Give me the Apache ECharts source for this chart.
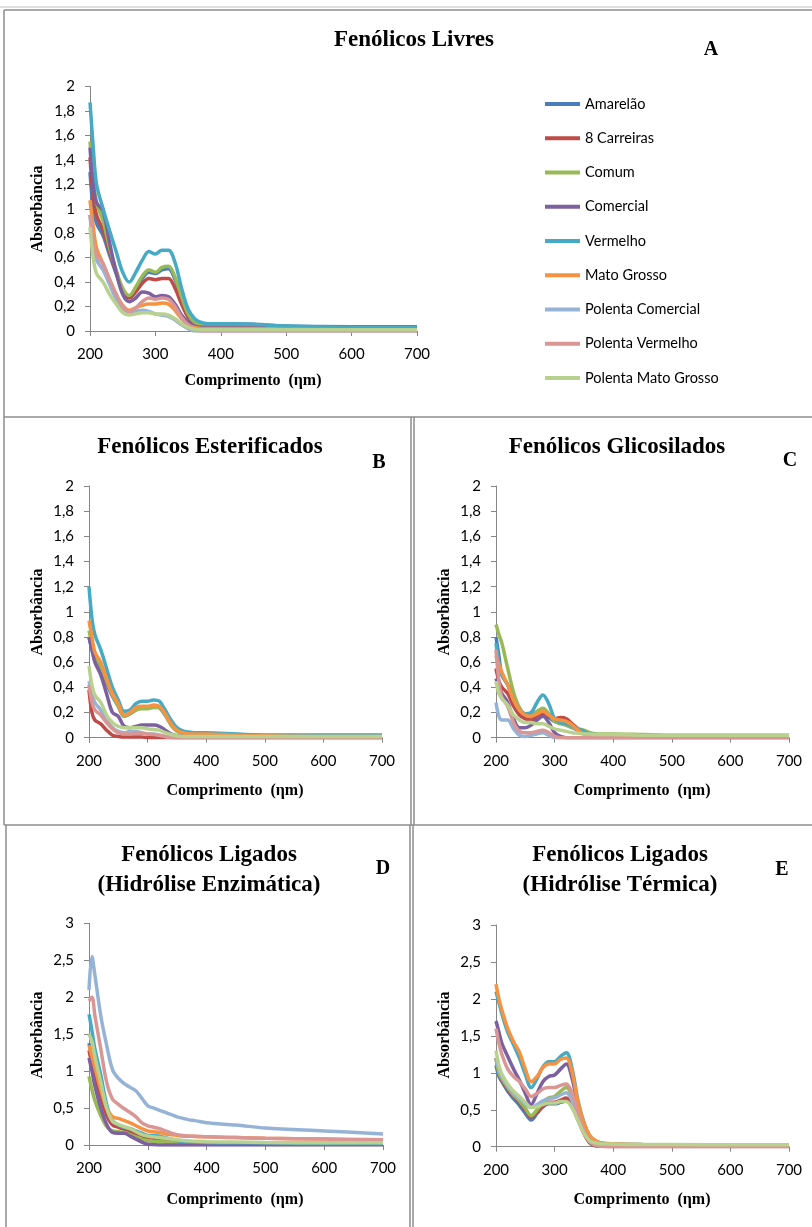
<!DOCTYPE html>
<html><head><meta charset="utf-8">
<script src="https://cdn.jsdelivr.net/npm/echarts@6/dist/echarts.min.js"></script>
<style>html,body{margin:0;padding:0;background:#fff}#c{width:812px;height:1227px}</style>
</head><body><div id="c"></div>
<script>
// Wavelengths (nm)
const wavelengths = [200,205,210,220,230,240,250,260,270,280,290,300,310,320,330,340,350,360,370,380,400,450,500,600,700];
const seriesNames = ['Amarelão','8 Carreiras','Comum','Comercial','Vermelho','Mato Grosso','Polenta Comercial','Polenta Vermelho','Polenta Mato Grosso'];
const yTicksAC = [0,0.2,0.4,0.6,0.8,1,1.2,1.4,1.6,1.8,2];
const yTicksDE = [0,0.5,1,1.5,2,2.5,3];
const xTicks = [200,300,400,500,600,700];

// A - Fenólicos Livres
const livresAmarelao   = [1.30,1.00,0.88,0.78,0.62,0.47,0.33,0.28,0.34,0.43,0.48,0.47,0.50,0.51,0.42,0.27,0.14,0.08,0.06,0.06,0.06,0.055,0.04,0.035,0.035];
const livres8Carreiras = [1.42,1.10,0.95,0.82,0.65,0.48,0.33,0.27,0.32,0.39,0.43,0.42,0.43,0.43,0.35,0.22,0.11,0.05,0.035,0.03,0.03,0.03,0.025,0.02,0.02];
const livresComum      = [1.55,1.25,1.05,0.90,0.68,0.50,0.35,0.29,0.36,0.45,0.50,0.48,0.52,0.53,0.44,0.28,0.14,0.07,0.05,0.05,0.05,0.05,0.035,0.02,0.02];
const livresComercial  = [1.50,1.20,1.05,0.98,0.72,0.48,0.30,0.24,0.27,0.32,0.31,0.28,0.29,0.28,0.22,0.13,0.07,0.04,0.03,0.03,0.03,0.03,0.02,0.02,0.02];
const livresVermelho   = [1.87,1.50,1.20,1.00,0.82,0.65,0.48,0.40,0.48,0.58,0.65,0.63,0.66,0.66,0.56,0.35,0.18,0.10,0.07,0.06,0.06,0.055,0.04,0.03,0.03];
const livresMatoGrosso = [1.07,0.85,0.68,0.55,0.42,0.30,0.21,0.17,0.19,0.21,0.22,0.22,0.23,0.22,0.17,0.10,0.05,0.03,0.02,0.02,0.02,0.02,0.015,0.01,0.01];
const livresPolCom     = [0.95,0.70,0.58,0.50,0.38,0.26,0.18,0.15,0.16,0.17,0.16,0.14,0.13,0.12,0.09,0.05,0.02,0.00,0,0,0,0,0,0,0];
const livresPolVerm    = [0.95,0.75,0.62,0.55,0.42,0.30,0.20,0.16,0.19,0.24,0.27,0.26,0.27,0.26,0.20,0.11,0.05,0.01,0,0,0,0,0,0,0];
const livresPolMG      = [0.85,0.60,0.47,0.40,0.30,0.22,0.15,0.13,0.14,0.15,0.15,0.14,0.14,0.13,0.10,0.06,0.03,0.015,0.01,0.01,0.01,0.01,0.01,0.01,0.01];

// B - Fenólicos Esterificados
const esterAmarelao   = [0.80,0.70,0.62,0.55,0.43,0.33,0.25,0.17,0.19,0.22,0.24,0.24,0.25,0.24,0.18,0.11,0.06,0.045,0.04,0.035,0.03,0.025,0.02,0.02,0.02];
const ester8Carreiras = [0.38,0.20,0.14,0.11,0.06,0.02,0.01,0.005,0.005,0.005,0.005,0,0,0,0,0,0,0,0,0,0,0,0,0,0];
const esterComum      = [0.85,0.75,0.65,0.57,0.45,0.34,0.25,0.17,0.19,0.22,0.23,0.23,0.24,0.24,0.18,0.10,0.05,0.035,0.025,0.02,0.02,0.02,0.015,0.01,0.01];
const esterComercial  = [0.80,0.70,0.60,0.50,0.35,0.20,0.17,0.09,0.08,0.09,0.10,0.10,0.10,0.09,0.06,0.03,0.015,0.01,0.01,0.01,0.01,0.01,0.01,0.01,0.01];
const esterVermelho   = [1.20,0.95,0.82,0.70,0.55,0.40,0.30,0.21,0.22,0.27,0.29,0.29,0.30,0.29,0.22,0.14,0.08,0.055,0.045,0.04,0.04,0.03,0.02,0.02,0.02];
const esterMatoGrosso = [0.93,0.80,0.68,0.60,0.47,0.35,0.27,0.18,0.20,0.24,0.25,0.25,0.26,0.25,0.19,0.11,0.06,0.04,0.03,0.03,0.03,0.02,0.015,0.01,0.01];
const esterPolCom     = [0.45,0.35,0.28,0.22,0.14,0.08,0.05,0.04,0.05,0.05,0.04,0.03,0.03,0.02,0.01,0.005,0,0,0,0,0,0,0,0,0];
const esterPolVerm    = [0.42,0.28,0.22,0.18,0.12,0.07,0.04,0.03,0.03,0.035,0.035,0.03,0.025,0.02,0.01,0,0,0,0,0,0,0,0,0,0];
const esterPolMG      = [0.57,0.42,0.34,0.28,0.18,0.12,0.09,0.08,0.08,0.08,0.08,0.07,0.065,0.06,0.04,0.025,0.015,0.01,0.01,0.01,0.01,0.01,0.01,0.01,0.01];

// C - Fenólicos Glicosilados
const glicAmarelao   = [0.80,0.65,0.50,0.42,0.30,0.22,0.18,0.17,0.17,0.18,0.16,0.13,0.12,0.10,0.08,0.06,0.04,0.03,0.025,0.02,0.02,0.02,0.015,0.015,0.015];
const glic8Carreiras = [0.55,0.45,0.40,0.35,0.25,0.18,0.15,0.14,0.16,0.19,0.17,0.15,0.16,0.15,0.11,0.07,0.03,0.015,0.01,0.01,0.01,0.01,0.01,0.01,0.01];
const glicComum      = [0.90,0.82,0.75,0.55,0.36,0.24,0.19,0.19,0.21,0.235,0.19,0.13,0.11,0.10,0.08,0.07,0.06,0.04,0.03,0.03,0.03,0.025,0.02,0.02,0.02];
const glicComercial  = [0.47,0.40,0.35,0.28,0.15,0.08,0.08,0.10,0.14,0.17,0.12,0.04,0.01,0,0,0,0,0,0,0,0,0,0,0,0];
const glicVermelho   = [0.75,0.60,0.50,0.42,0.30,0.22,0.19,0.20,0.28,0.34,0.27,0.15,0.12,0.11,0.09,0.07,0.05,0.03,0.025,0.02,0.02,0.02,0.015,0.015,0.015];
const glicMatoGrosso = [0.65,0.58,0.52,0.42,0.30,0.22,0.18,0.17,0.19,0.21,0.18,0.15,0.14,0.13,0.10,0.06,0.03,0.02,0.01,0.01,0.01,0.01,0.01,0.01,0.01];
const glicPolCom     = [0.28,0.17,0.14,0.14,0.07,0.02,0.01,0.02,0.03,0.04,0.02,0,0,0,0,0,0,0,0,0,0,0,0,0,0];
const glicPolVerm    = [0.70,0.45,0.32,0.25,0.12,0.05,0.04,0.04,0.05,0.06,0.04,0.01,0,0,0,0,0,0,0,0,0,0,0,0,0];
const glicPolMG      = [0.45,0.35,0.31,0.26,0.18,0.14,0.12,0.12,0.11,0.11,0.09,0.07,0.06,0.05,0.04,0.035,0.03,0.03,0.025,0.025,0.025,0.02,0.02,0.02,0.02];

// D - Fenólicos Ligados (Hidrólise Enzimática)
const enzAmarelao   = [1.38,1.20,1.00,0.70,0.42,0.28,0.25,0.22,0.19,0.15,0.11,0.08,0.07,0.06,0.05,0.045,0.04,0.035,0.03,0.03,0.025,0.02,0.02,0.015,0.015];
const enz8Carreiras = [1.28,1.10,0.95,0.65,0.40,0.27,0.24,0.21,0.18,0.15,0.11,0.08,0.07,0.065,0.06,0.05,0.045,0.04,0.035,0.03,0.03,0.025,0.02,0.02,0.02];
const enzComum      = [0.93,0.75,0.60,0.40,0.25,0.19,0.18,0.17,0.14,0.11,0.08,0.06,0.05,0.045,0.04,0.035,0.03,0.025,0.02,0.02,0.02,0.015,0.01,0.01,0.01];
const enzComercial  = [1.18,1.00,0.80,0.50,0.28,0.17,0.16,0.16,0.12,0.08,0.04,0.01,0.005,0,0,0,0,0,0,0,0,0,0,0,0];
const enzVermelho   = [1.77,1.55,1.30,0.95,0.55,0.33,0.27,0.24,0.22,0.19,0.16,0.13,0.13,0.12,0.10,0.08,0.06,0.05,0.045,0.04,0.035,0.03,0.03,0.02,0.02];
const enzMatoGrosso = [1.35,1.20,1.05,0.75,0.50,0.38,0.36,0.33,0.30,0.26,0.22,0.19,0.18,0.17,0.15,0.14,0.13,0.12,0.12,0.115,0.11,0.10,0.09,0.08,0.07];
const enzPolCom     = [2.10,2.55,2.30,1.75,1.35,1.02,0.90,0.83,0.78,0.73,0.63,0.53,0.50,0.47,0.44,0.41,0.38,0.36,0.34,0.33,0.30,0.27,0.23,0.19,0.15];
const enzPolVerm    = [1.95,2.00,1.75,1.30,0.85,0.62,0.55,0.49,0.44,0.38,0.30,0.26,0.24,0.22,0.19,0.16,0.14,0.13,0.12,0.12,0.11,0.10,0.09,0.08,0.07];
const enzPolMG      = [1.50,1.40,1.20,0.85,0.50,0.32,0.28,0.25,0.22,0.18,0.14,0.12,0.11,0.10,0.09,0.08,0.07,0.06,0.055,0.05,0.045,0.04,0.035,0.03,0.03];

// E - Fenólicos Ligados (Hidrólise Térmica)
const termAmarelao   = [1.10,0.95,0.88,0.75,0.65,0.56,0.45,0.36,0.45,0.54,0.58,0.58,0.60,0.62,0.54,0.36,0.18,0.07,0.04,0.03,0.03,0.025,0.025,0.025,0.025];
const term8Carreiras = [1.20,1.00,0.90,0.78,0.68,0.60,0.50,0.40,0.47,0.55,0.60,0.60,0.63,0.66,0.57,0.38,0.18,0.05,0.01,0.005,0,0,0,0,0];
const termComum      = [1.20,1.00,0.92,0.80,0.70,0.62,0.52,0.42,0.50,0.60,0.66,0.68,0.75,0.80,0.68,0.43,0.21,0.07,0.03,0.02,0.02,0.015,0.015,0.015,0.015];
const termComercial  = [1.70,1.55,1.40,1.22,1.05,0.90,0.72,0.57,0.72,0.88,0.95,0.97,1.05,1.12,0.92,0.55,0.28,0.10,0.03,0.02,0.02,0.015,0.015,0.015,0.015];
const termVermelho   = [2.10,1.95,1.80,1.55,1.38,1.20,0.98,0.80,0.92,1.08,1.15,1.15,1.22,1.27,1.05,0.62,0.33,0.15,0.08,0.05,0.04,0.03,0.025,0.02,0.02];
const termMatoGrosso = [2.20,2.00,1.85,1.60,1.42,1.28,1.05,0.88,0.95,1.07,1.12,1.12,1.18,1.20,1.00,0.60,0.32,0.15,0.08,0.05,0.04,0.03,0.025,0.02,0.02];
const termPolCom     = [1.20,1.05,0.95,0.82,0.72,0.65,0.58,0.53,0.57,0.62,0.65,0.66,0.70,0.73,0.62,0.40,0.20,0.07,0.02,0.01,0.01,0.01,0.01,0.01,0.01];
const termPolVerm    = [1.60,1.40,1.25,1.05,0.95,0.88,0.78,0.68,0.72,0.78,0.80,0.80,0.83,0.85,0.72,0.45,0.22,0.07,0.02,0.01,0.01,0.005,0.005,0.005,0.005];
const termPolMG      = [1.30,1.10,0.98,0.85,0.75,0.68,0.60,0.53,0.54,0.57,0.59,0.59,0.61,0.61,0.52,0.35,0.18,0.08,0.05,0.04,0.035,0.03,0.03,0.025,0.025];

const colors = ['#4A7EBB','#BE4B48','#98B954','#7D60A0','#46AAC5','#F69240','#95B3D7','#D99694','#B9D18F'];

const panels = [
  [livresAmarelao,livres8Carreiras,livresComum,livresComercial,livresVermelho,livresMatoGrosso,livresPolCom,livresPolVerm,livresPolMG],
  [esterAmarelao,ester8Carreiras,esterComum,esterComercial,esterVermelho,esterMatoGrosso,esterPolCom,esterPolVerm,esterPolMG],
  [glicAmarelao,glic8Carreiras,glicComum,glicComercial,glicVermelho,glicMatoGrosso,glicPolCom,glicPolVerm,glicPolMG],
  [enzAmarelao,enz8Carreiras,enzComum,enzComercial,enzVermelho,enzMatoGrosso,enzPolCom,enzPolVerm,enzPolMG],
  [termAmarelao,term8Carreiras,termComum,termComercial,termVermelho,termMatoGrosso,termPolCom,termPolVerm,termPolMG]
];

const grids = [
  {left:90, top:86.5, width:327, height:244.5},
  {left:89, top:486, width:293, height:251.7},
  {left:496, top:486, width:293, height:251.7},
  {left:89, top:923.3, width:294, height:221.7},
  {left:496, top:925, width:293, height:221.7}
];
const yMax = [2,2,2,3,3];
const yInt = [0.2,0.2,0.2,0.5,0.5];

const axisColor = '#868686';
const tickFont = {fontFamily:'Lato', fontSize:15, color:'#000'};
const fmt = v => String(Math.round(v*10)/10).replace('.', ',');

const xAxes = grids.map((g,i)=>({
  type:'value', gridIndex:i, min:200, max:700, interval:100,
  axisLine:{show:true, lineStyle:{color:axisColor, width:1}},
  axisTick:{show:true, length:5, lineStyle:{color:axisColor}},
  splitLine:{show:false},
  axisLabel:Object.assign({margin:16}, tickFont)
}));
const yAxes = grids.map((g,i)=>({
  type:'value', gridIndex:i, min:0, max:yMax[i], interval:yInt[i],
  axisLine:{show:true, lineStyle:{color:axisColor, width:1}},
  axisTick:{show:true, length:5, lineStyle:{color:axisColor}},
  splitLine:{show:false},
  axisLabel:Object.assign({margin:15, formatter:fmt}, tickFont)
}));

const series = [];
panels.forEach((arrs,p)=>{
  arrs.forEach((vals,s)=>{
    series.push({
      type:'line', name:seriesNames[s], xAxisIndex:p, yAxisIndex:p,
      data: wavelengths.map((w,k)=>[w, vals[k]]),
      smooth:0.35, showSymbol:false, symbol:'none',
      lineStyle:{width:3.5, color:colors[s]}, itemStyle:{color:colors[s]},
      animation:false
    });
  });
});

const titleFont = 'bold 23px "Liberation Serif"';
const axTitleFont = 'bold 16px "Liberation Serif"';
const letterFont = 'bold 20px "Liberation Serif"';
function txt(x,y,t,font,opts){return Object.assign({type:'text', x:x, y:y, style:{text:t, font:font, fill:'#000', textAlign:'center', textVerticalAlign:'middle'}}, opts||{});}
const border = '#8c8c8c';
function line(x1,y1,x2,y2,c,w){return {type:'line', shape:{x1:x1,y1:y1,x2:x2,y2:y2}, style:{stroke:c||border, lineWidth:w||1.5}};}

const graphics = [
  line(0,7,812,7,'#d4d4d4',1.5),
  // panel A
  line(4,10,812,10), line(4,10,4,417),
  line(4,417,812,417),
  // B / C
  line(4,417,4,825), line(411,417,411,825), line(414,417,414,825),
  line(4,825,812,825),
  // D / E
  line(6,825,6,1227), line(410,825,410,1227), line(413,825,413,1227),
  // titles
  txt(414,40,'Fenólicos Livres',titleFont),
  txt(711,50,'A',letterFont),
  txt(210,447,'Fenólicos Esterificados',titleFont),
  txt(379,463,'B',letterFont),
  txt(617,447,'Fenólicos Glicosilados',titleFont),
  txt(790,461,'C',letterFont),
  txt(209,855,'Fenólicos Ligados',titleFont),
  txt(209,885,'(Hidrólise Enzimática)',titleFont),
  txt(383,869,'D',letterFont),
  txt(620,855,'Fenólicos Ligados',titleFont),
  txt(620,885,'(Hidrólise Térmica)',titleFont),
  txt(782,870,'E',letterFont),
  // axis titles
  txt(253,381,'Comprimento  (ηm)',axTitleFont),
  txt(235,791,'Comprimento  (ηm)',axTitleFont),
  txt(642,791,'Comprimento  (ηm)',axTitleFont),
  txt(235,1200,'Comprimento  (ηm)',axTitleFont),
  txt(642,1200,'Comprimento  (ηm)',axTitleFont),
  txt(38,209,'Absorbância',axTitleFont,{rotation:Math.PI/2}),
  txt(38,612,'Absorbância',axTitleFont,{rotation:Math.PI/2}),
  txt(445,612,'Absorbância',axTitleFont,{rotation:Math.PI/2}),
  txt(38,1035,'Absorbância',axTitleFont,{rotation:Math.PI/2}),
  txt(445,1035,'Absorbância',axTitleFont,{rotation:Math.PI/2})
];

const chart = echarts.init(document.getElementById('c'), null, {renderer:'canvas'});
chart.setOption({
  backgroundColor:'#fff',
  animation:false,
  grid:grids,
  xAxis:xAxes,
  yAxis:yAxes,
  legend:{
    data:seriesNames, orient:'vertical', left:545, top:96, padding:0, itemGap:18.25,
    icon:'rect', itemWidth:35, itemHeight:4,
    textStyle:{fontFamily:'Lato', fontSize:14.5, color:'#000', lineHeight:16}
  },
  series:series,
  graphic:graphics
});
</script></body></html>
